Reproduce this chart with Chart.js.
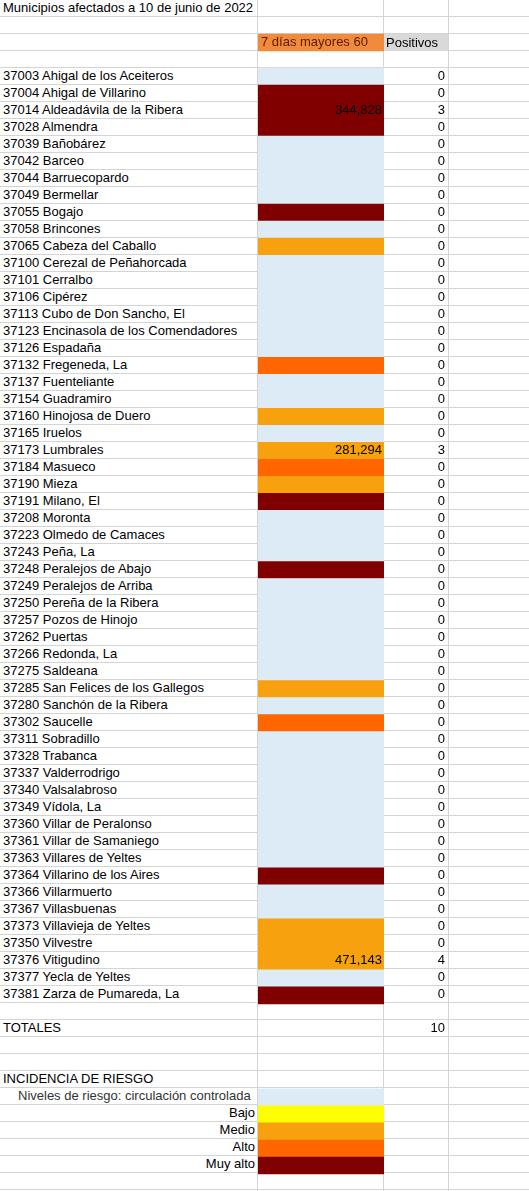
<!DOCTYPE html>
<html><head><meta charset="utf-8">
<script src="https://cdn.jsdelivr.net/npm/chart.js@4"></script>
<style>
html,body{margin:0;padding:0;background:#fff;width:529px;height:1191px;overflow:hidden}
#grid{position:absolute;left:0;top:0;width:529px;height:1191px;
background-image:repeating-linear-gradient(to bottom,transparent 0,transparent 16px,#d4d4d4 16px,#d4d4d4 17px);}
.v{position:absolute;top:0;width:1px;height:1191px;background:#d4d4d4}
.t{position:absolute;height:17px;line-height:19px;font:13px "Liberation Sans",Arial,sans-serif;color:#000;white-space:nowrap;overflow:hidden}
#wrap{position:absolute;left:258px;top:0;width:126px;height:1191px}
</style></head><body>
<div id="grid"></div>
<div class="v" style="left:257px"></div><div class="v" style="left:383px"></div><div class="v" style="left:448px"></div>
<div id="wrap"><canvas id="c" width="126" height="1191"></canvas></div>
<div id="txt"></div>
<script>
const title = "Municipios afectados a 10 de junio de 2022";
const headerB = "7 días mayores 60";
const headerC = "Positivos";
const municipios = ["37003 Ahigal de los Aceiteros","37004 Ahigal de Villarino","37014 Aldeadávila de la Ribera","37028 Almendra","37039 Bañobárez","37042 Barceo","37044 Barruecopardo","37049 Bermellar","37055 Bogajo","37058 Brincones","37065 Cabeza del Caballo","37100 Cerezal de Peñahorcada","37101 Cerralbo","37106 Cipérez","37113 Cubo de Don Sancho, El","37123 Encinasola de los Comendadores","37126 Espadaña","37132 Fregeneda, La","37137 Fuenteliante","37154 Guadramiro","37160 Hinojosa de Duero","37165 Iruelos","37173 Lumbrales","37184 Masueco","37190 Mieza","37191 Milano, El","37208 Moronta","37223 Olmedo de Camaces","37243 Peña, La","37248 Peralejos de Abajo","37249 Peralejos de Arriba","37250 Pereña de la Ribera","37257 Pozos de Hinojo","37262 Puertas","37266 Redonda, La","37275 Saldeana","37285 San Felices de los Gallegos","37280 Sanchón de la Ribera","37302 Saucelle","37311 Sobradillo","37328 Trabanca","37337 Valderrodrigo","37340 Valsalabroso","37349 Vídola, La","37360 Villar de Peralonso","37361 Villar de Samaniego","37363 Villares de Yeltes","37364 Villarino de los Aires","37366 Villarmuerto","37367 Villasbuenas","37373 Villavieja de Yeltes","37350 Vilvestre","37376 Vitigudino","37377 Yecla de Yeltes","37381 Zarza de Pumareda, La"];
// 0 controlada, 1 bajo, 2 medio, 3 alto, 4 muy alto
const niveles = [0,4,4,4,0,0,0,0,4,0,2,0,0,0,0,0,0,3,0,0,2,0,2,3,2,4,0,0,0,4,0,0,0,0,0,0,2,0,3,0,0,0,0,0,0,0,0,4,0,0,2,2,2,0,4];
const incidencia = ["","","344,828","","","","","","","","","","","","","","","","","","","","281,294","","","","","","","","","","","","","","","","","","","","","","","","","","","","","","471,143","",""];
const positivos = [0,0,3,0,0,0,0,0,0,0,0,0,0,0,0,0,0,0,0,0,0,0,3,0,0,0,0,0,0,0,0,0,0,0,0,0,0,0,0,0,0,0,0,0,0,0,0,0,0,0,0,0,4,0,0];
const totalPositivos = 10;
const nivelNombres = ["Niveles de riesgo:  circulación controlada","Bajo","Medio","Alto","Muy alto"];
const nivelColores = ["#ddebf7","#ffff00","#f7a10f","#ff6600","#800000"];
const headerColor = "#f08a3c";

const NROWS = 70, FIRST = 4;
const labels = Array.from({length:NROWS},(_,i)=>String(i));
const vals = new Array(NROWS).fill(null), cols = new Array(NROWS).fill("rgba(0,0,0,0)");
vals[2]=1; cols[2]=headerColor;
niveles.forEach((n,i)=>{vals[FIRST+i]=1; cols[FIRST+i]=nivelColores[n];});
const LEG = FIRST+municipios.length+5; // "Niveles" row
nivelColores.forEach((c,i)=>{vals[LEG+i]=1; cols[LEG+i]=c;});

new Chart(document.getElementById('c'),{type:'bar',
 data:{labels,datasets:[{data:vals,backgroundColor:cols,barPercentage:1,categoryPercentage:1,borderWidth:0}]},
 options:{indexAxis:'y',responsive:false,animation:false,layout:{padding:0},
  plugins:{legend:{display:false},tooltip:{enabled:false}},
  scales:{x:{display:false,min:0,max:1},y:{display:false}}}});

const txt=document.getElementById('txt');
function put(row,left,width,text,align,extra){const d=document.createElement('div');d.className='t';
 d.style.top=(row*17)+'px';d.style.left=left+'px';d.style.width=width+'px';d.style.textAlign=align||'left';
 if(extra)Object.assign(d.style,extra);d.textContent=text;txt.appendChild(d);}
put(0,3,254,title);
put(2,259,124,headerB,'left',{color:'#5a1a00',paddingLeft:'2px'});
put(2,384,64,headerC,'left',{background:'#d9d9d9',paddingLeft:'2px',width:'62px',color:'#000',lineHeight:'17px'});
municipios.forEach((m,i)=>{const r=FIRST+i;
 put(r,3,254,m);
 if(incidencia[i])put(r,258,124,incidencia[i],'right',{paddingRight:'2px'});
 put(r,384,61,String(positivos[i]),'right');});
const TOT=FIRST+municipios.length+1;
put(TOT,3,254,"TOTALES"); put(TOT,384,61,String(totalPositivos),'right');
put(LEG-1,3,254,"INCIDENCIA DE RIESGO");
nivelNombres.forEach((n,i)=>put(LEG+i,3,252,n,i===0?'left':'right',i===0?{paddingLeft:'15px',width:'240px',color:'#333'}:{}));
</script></body></html>
